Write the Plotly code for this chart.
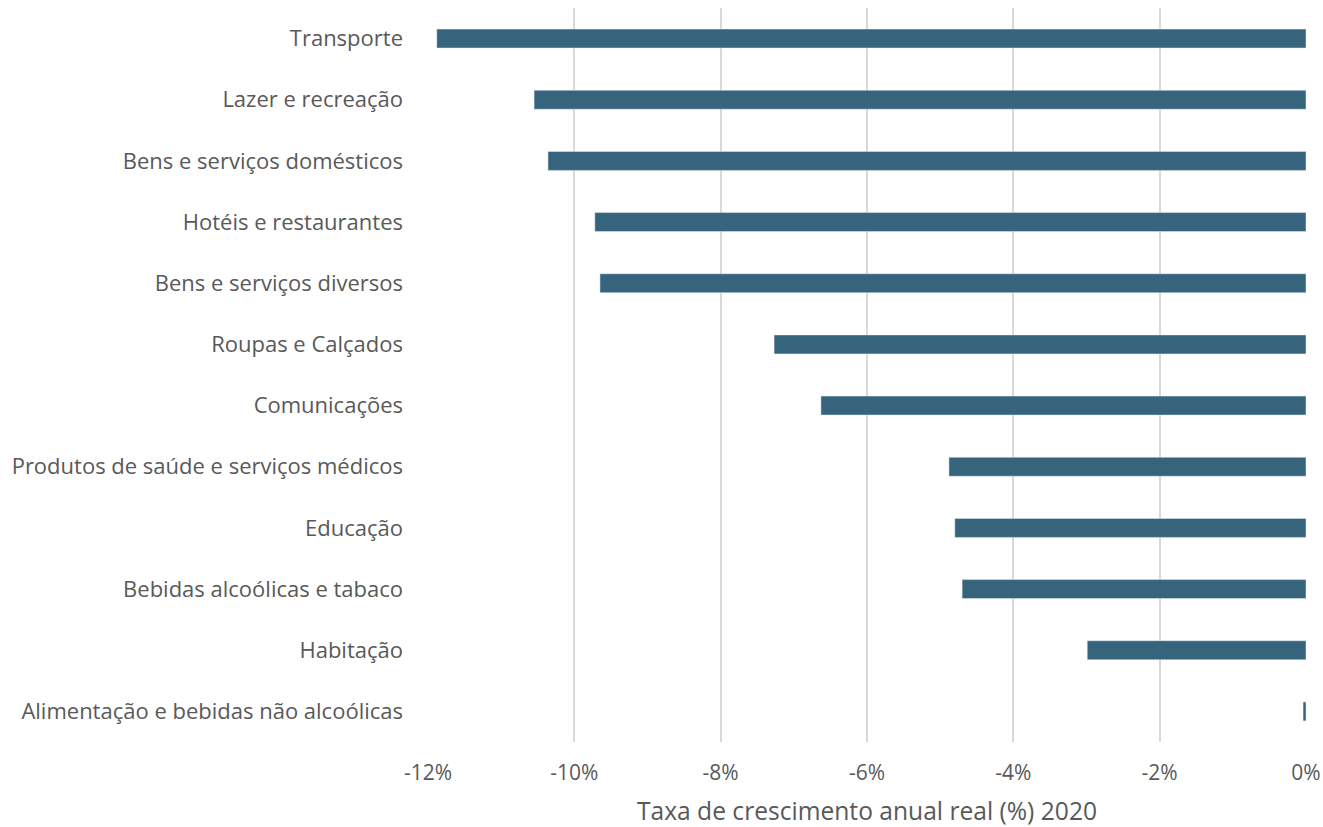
import plotly.graph_objects as go

categories = [
    "Transporte",
    "Lazer e recreação",
    "Bens e serviços domésticos",
    "Hotéis e restaurantes",
    "Bens e serviços diversos",
    "Roupas e Calçados",
    "Comunicações",
    "Produtos de saúde e serviços médicos",
    "Educação",
    "Bebidas alcoólicas e tabaco",
    "Habitação",
    "Alimentação e bebidas não alcoólicas",
]
values = [-11.88, -10.55, -10.36, -9.72, -9.65, -7.27, -6.63, -4.88, -4.80, -4.70, -2.99, -0.04]
tick_vals = [-12, -10, -8, -6, -4, -2, 0]
tick_text = ["-12%", "-10%", "-8%", "-6%", "-4%", "-2%", "0%"]

fig = go.Figure(go.Bar(
    x=values,
    y=categories,
    orientation="h",
    marker=dict(color="#35647c"),
    width=0.31,
))

fig.update_layout(
    width=1323, height=827,
    margin=dict(l=428, r=17, t=8, b=85, autoexpand=False),
    paper_bgcolor="white", plot_bgcolor="white",
    font=dict(family="Open Sans, sans-serif", size=22, color="#595959"),
    showlegend=False,
)
fig.update_xaxes(
    range=[-12, 0],
    tickvals=tick_vals, ticktext=tick_text,
    showgrid=True, gridcolor="#d9d9d9", gridwidth=2,
    zeroline=False, showline=False, automargin=False,
    ticks="", ticklabelstandoff=16,
    tickfont=dict(size=21, color="#595959"),
    title=dict(text="Taxa de crescimento anual real (%) 2020", font=dict(size=24.6, color="#595959"), standoff=21),
)
fig.update_yaxes(
    autorange="reversed",
    showgrid=False, showline=False, zeroline=False, automargin=False,
    ticks="", ticklabelstandoff=24,
    tickfont=dict(size=22, color="#595959"),
)

fig.write_html("out.html")
